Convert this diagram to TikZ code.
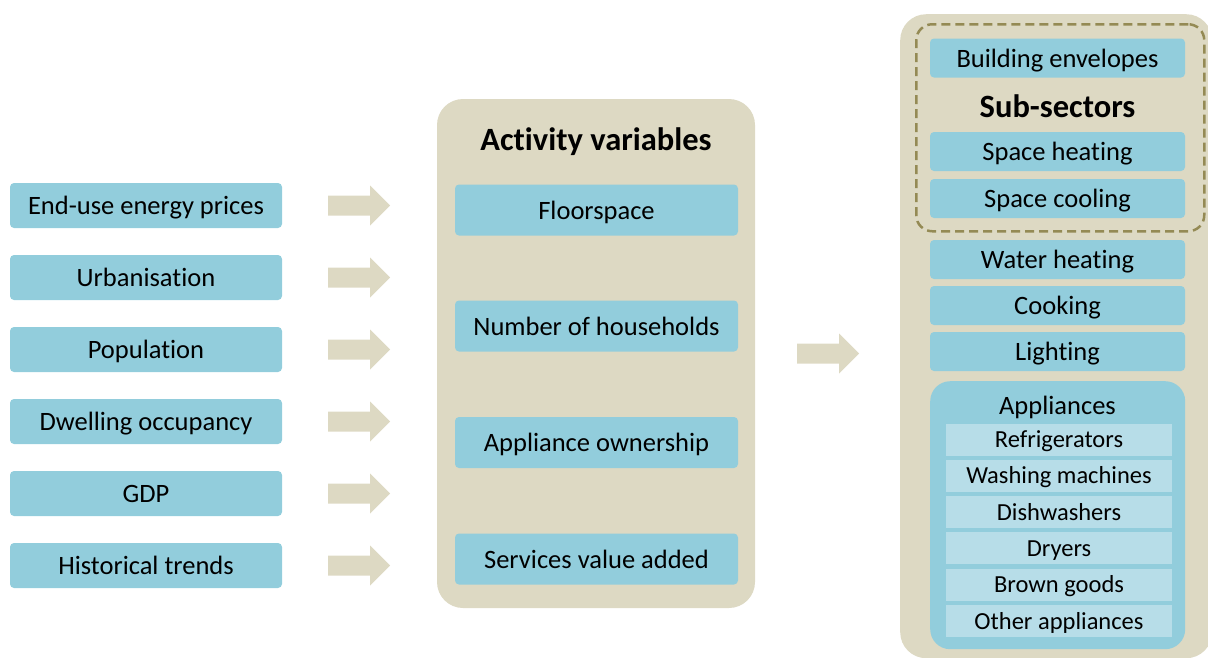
\documentclass[tikz,border=0pt]{standalone}
\usepackage{fontspec}
\setmainfont{Carlito}[Ligatures=NoCommon]
\definecolor{tanbg}{HTML}{DDD9C3}
\definecolor{bluebox}{HTML}{92CDDC}
\definecolor{lightblue}{HTML}{B7DDE8}
\definecolor{dashc}{HTML}{948A54}
\begin{document}
\begin{tikzpicture}[x=1pt,y=-1pt,
  bodytext/.style={font=\fontsize{26.5}{30}\selectfont, text height=20pt, text depth=2pt},
  inbox/.style={bodytext, fill=bluebox, rounded corners=4pt, inner sep=0pt},
  leftbox/.style={inbox, minimum width=272pt, minimum height=45pt},
  midbox/.style={inbox, minimum width=283pt, minimum height=51pt},
  rightbox/.style={inbox, minimum width=255pt, minimum height=39pt},
  rowbox/.style={fill=lightblue, inner sep=0pt, minimum width=226pt, minimum height=32pt, font=\fontsize{24.5}{28}\selectfont, text height=18pt, text depth=2pt},
  titletext/.style={font=\fontsize{32.5}{36}\selectfont\bfseries, text height=24pt, text depth=2.5pt},
  panel/.style={fill=tanbg, rounded corners=26pt, inner sep=0pt},
  barrow/.pic={\fill[tanbg] (0,-10) -- (42,-10) -- (42,-20) -- (62,0) -- (42,20) -- (42,10) -- (0,10) -- cycle;}
]
\useasboundingbox (0,0) rectangle (1208,657);
\clip (0,0) rectangle (1208,657);

% left column
\node[leftbox] (epr) at (146,205.5) {End-use energy prices};
\node[leftbox] (urb) at (146,277.5) {Urbanisation};
\node[leftbox] (pop) at (146,349.5) {Population};
\node[leftbox] (dwo) at (146,421.5) {Dwelling occupancy};
\node[leftbox] (gdp) at (146,493.5) {GDP};
\node[leftbox] (hist) at (146,565.5) {Historical trends};

\foreach \n in {epr,urb,pop,dwo,gdp,hist}
  \pic at ([xshift=46pt]\n.east) {barrow};

% middle panel
\node[panel, minimum width=318pt, minimum height=509pt] (act) at (596,353.5) {};
\node[titletext] (acttitle) at (596,140) {Activity variables};
\node[midbox] (floor) at (596.5,210) {Floorspace};
\node[midbox] (hh) at (596.5,326) {Number of households};
\node[midbox] (own) at (596.5,442.5) {Appliance ownership};
\node[midbox] (serv) at (596.5,559) {Services value added};

\pic at ([xshift=42pt]act.east) {barrow};

% right panel
\node[panel, minimum width=312pt, minimum height=644pt, anchor=north west] (sub) at (900,14) {};
\node[draw=dashc, line width=2.5pt, dash pattern=on 9pt off 5pt, rounded corners=16pt, minimum width=288pt, minimum height=207pt, inner sep=0pt, anchor=north west] (dash) at (915,23) {};
\node[rightbox] (env) at (1057.5,58) {Building envelopes};
\node[titletext] (subtitle) at (1057.5,107) {Sub-sectors};
\node[rightbox] (sph) at (1057.5,151.5) {Space heating};
\node[rightbox] (spc) at (1057.5,198.5) {Space cooling};
\node[rightbox] (wat) at (1057.5,259.5) {Water heating};
\node[rightbox] (cook) at (1057.5,305.5) {Cooking};
\node[rightbox] (light) at (1057.5,351.5) {Lighting};
\node[fill=bluebox, rounded corners=20pt, minimum width=255pt, minimum height=268pt, inner sep=0pt, anchor=north west] (app) at (930,381) {};
\node[bodytext] (apptitle) at (1057.5,405) {Appliances};
\node[rowbox] (fridge) at (1059,439.5) {Refrigerators};
\node[rowbox] (wash) at (1059,475.8) {Washing machines};
\node[rowbox] (dish) at (1059,512.1) {Dishwashers};
\node[rowbox] (dry) at (1059,548.4) {Dryers};
\node[rowbox] (brown) at (1059,584.7) {Brown goods};
\node[rowbox] (other) at (1059,621) {Other appliances};
\end{tikzpicture}
\end{document}
